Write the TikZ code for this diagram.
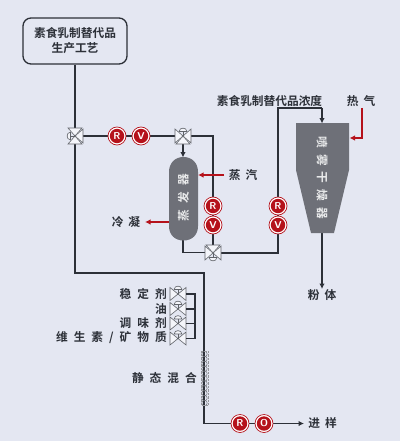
\documentclass[tikz,border=0pt]{standalone}
\usepackage{fontspec}
\newfontfamily\cjk{Noto Sans CJK SC}[BoldFont={Noto Sans CJK SC Bold}]
\definecolor{bgc}{HTML}{E4E7F2}
\definecolor{linec}{HTML}{2C3038}
\definecolor{redc}{HTML}{B5121B}
\definecolor{grayc}{HTML}{6E7078}
\usetikzlibrary{arrows.meta}
\tikzset{
  lbl/.style={font=\cjk\bfseries\fontsize{11.7}{13}\selectfont,text=linec,inner sep=0pt},
  pipe/.style={draw=linec,line width=1.5pt},
  flow/.style={pipe,-{Latex[length=5.5pt,width=5.5pt]}},
  hot/.style={draw=redc,line width=1.5pt,-{Latex[length=5.5pt,width=5.5pt]}},
  inner/.style={font=\cjk\bfseries\fontsize{11.7}{13}\selectfont,text=white!85!grayc,inner sep=0pt},
  tank/.style={fill=grayc,draw=none},
  badge/.style={circle,draw=redc,fill=white,line width=.7pt,minimum size=18pt,inner sep=0pt,
    path picture={\fill[redc] (path picture bounding box.center) circle (7.2pt);},
    font=\sffamily\bfseries\fontsize{10}{10}\selectfont,text=white},
  vtri/.style={draw=linec!75,fill=white!60!bgc,line width=.6pt,line join=miter},
  pt/.style={inner sep=0pt,minimum size=0pt},
}
\newcommand{\vlv}[3]{% name, position, rotation: third body towards -y, actuator towards +y
  \node[pt] (#1) at (#2) {};
  \begin{scope}[shift={(#2)},rotate=#3]
    \draw[vtri] (0,0) -- (-7,-8) -- (7,-8) -- cycle;
    \draw[vtri] (0,0) -- (-8,-7) -- (-8,7) -- cycle;
    \draw[vtri] (0,0) -- (8,-7) -- (8,7) -- cycle;
    \draw[vtri] (0,0) -- (0,4.5);
    \draw[vtri] (-3.8,4.5) .. controls (-3.8,9) and (3.8,9) .. (3.8,4.5) -- cycle;
  \end{scope}}
\newcommand{\gvlv}[2]{% name, position; two way with actuator on top
  \node[pt] (#1) at (#2) {};
  \begin{scope}[shift={(#2)}]
    \draw[vtri] (0,0) -- (-8,-6.5) -- (-8,6.5) -- cycle;
    \draw[vtri] (0,0) -- (8,-6.5) -- (8,6.5) -- cycle;
    \draw[vtri] (0,0) -- (0,-4.5);
    \draw[vtri] (-3.8,-4.5) .. controls (-3.8,-9) and (3.8,-9) .. (3.8,-4.5) -- cycle;
  \end{scope}}
\begin{document}
\begin{tikzpicture}[x=1pt,y=-1pt]
\useasboundingbox[fill=bgc] (0,0) rectangle (400,441);

\node[draw=linec,line width=1.3pt,rounded corners=8pt,fill=bgc,minimum width=104pt,minimum height=46pt,inner sep=0pt,
  font=\cjk\bfseries\fontsize{11.7}{15}\selectfont,text=linec,align=center] (box) at (75,41) {素食乳制替代品\\生产工艺};

\coordinate (v1) at (75,136);
\coordinate (v2) at (183,136);
\coordinate (v3) at (213,253);
\coordinate (c1) at (213,136);
\coordinate (c2) at (183,252.5);
\coordinate (c3) at (278,253);
\coordinate (c4) at (278,108);
\coordinate (c5) at (322,108);
\coordinate (c6) at (75,273);
\coordinate (c7) at (204,273);
\coordinate (c8) at (204,423.5);
\coordinate (out) at (304,423.5);

\draw[pipe] (box.south) -- (v1) -- (c6) -- (c7) -- (c8);
\draw[flow] (c8) -- (out);
\draw[pipe] (v1) -- (v2) -- (c1) -- (213,252.5) -- (c2) -- (183,235);
\draw[pipe] (v3) -- (c3) -- (c4) -- (c5);
\draw[flow] (c5) -- (322,123.5);
\draw[flow] (v2) -- (183,157.5);
\draw[flow] (322,232) -- (322,289);

% vessels
\fill[tank] (169,172) .. controls (169,163) and (175,157) .. (183.5,157)
  .. controls (192,157) and (198,163) .. (198,172) -- (198,226)
  .. controls (198,235) and (192,240.5) .. (183.5,240.5)
  .. controls (175,240.5) and (169,235) .. (169,226) -- cycle;
\fill[tank] (296,123) -- (349,123) -- (349,170) -- (334,233) -- (311,233) -- (296,170) -- cycle;
\node[inner,rotate=90] at (183.5,180) {器};
\node[inner,rotate=90] at (183.5,198) {发};
\node[inner,rotate=90] at (183.5,216) {蒸};
\node[inner,rotate=-90] at (322,142) {喷};
\node[inner,rotate=-90] at (322,160) {雾};
\node[inner,rotate=-90] at (322,177) {干};
\node[inner,rotate=-90] at (322,195) {燥};
\node[inner,rotate=-90] at (322,213) {器};

% red streams
\coordinate (s1) at (224,175);
\coordinate (s2) at (198,175);
\draw[hot] (s1) -- (s2);
\draw[hot] (169,222) -- (145,222);
\draw[draw=redc,line width=1.5pt] (362,108) -- (362,138);
\draw[hot] (362.75,138) -- (349.5,138);

% valves
\vlv{va}{75,136}{-90}
\vlv{vb}{183,136}{180}
\vlv{vc}{213,253}{0}

% badges
\node[badge] (b1) at (117,136) {R};
\node[badge] (b2) at (141,136) {V};
\node[badge] (b3) at (213,206) {R};
\node[badge] (b4) at (213,225) {V};
\node[badge] (b5) at (278,206) {R};
\node[badge] (b6) at (278,225) {V};
\node[badge] (b7) at (240,423.5) {R};
\node[badge] (b8) at (264,423.5) {O};

% additive valves
\gvlv{g1}{178,294}
\gvlv{g2}{178,309}
\gvlv{g3}{178,323.5}
\gvlv{g4}{178,338.5}
\draw[pipe] (186,294) -- (195,294) -- (195,338.5) -- (186,338.5);
\draw[pipe] (186,309) -- (195,309);
\draw[pipe] (186,323.5) -- (195,323.5);

% static mixer
\foreach \yy in {354,358.9,...,403}{\draw[linec!70,line width=.5pt] (204.5,\yy) circle (2.7pt);}
\draw[linec!50,line width=.4pt,densely dotted] (201,351) rectangle (208,405);

% labels
\node[lbl] (t1) at (269.5,101) {素食乳制替代品浓度};
\node[lbl] (t2) at (361,101) {热\hspace{5pt}气};
\node[lbl] (t3) at (243,175) {蒸\hspace{5pt}汽};
\node[lbl] (t4) at (126,222) {冷\hspace{5pt}凝};
\node[lbl] (t5) at (322,295) {粉\hspace{5pt}体};
\node[lbl] (t6) at (322.5,423) {进\hspace{5pt}样};
\node[lbl,anchor=east] (t7) at (167,294) {稳\hspace{6pt}定\hspace{6pt}剂};
\node[lbl,anchor=east] (t8) at (167,309) {油};
\node[lbl,anchor=east] (t9) at (167,323) {调\hspace{6pt}味\hspace{6pt}剂};
\node[lbl,anchor=east] (t10) at (167,338) {维\hspace{6pt}生\hspace{6pt}素\hspace{6pt}/\hspace{6pt}矿\hspace{6pt}物\hspace{6pt}质};
\node[lbl,anchor=east] (t11) at (197,378) {静\hspace{6pt}态\hspace{6pt}混\hspace{6pt}合};
\end{tikzpicture}
\end{document}
